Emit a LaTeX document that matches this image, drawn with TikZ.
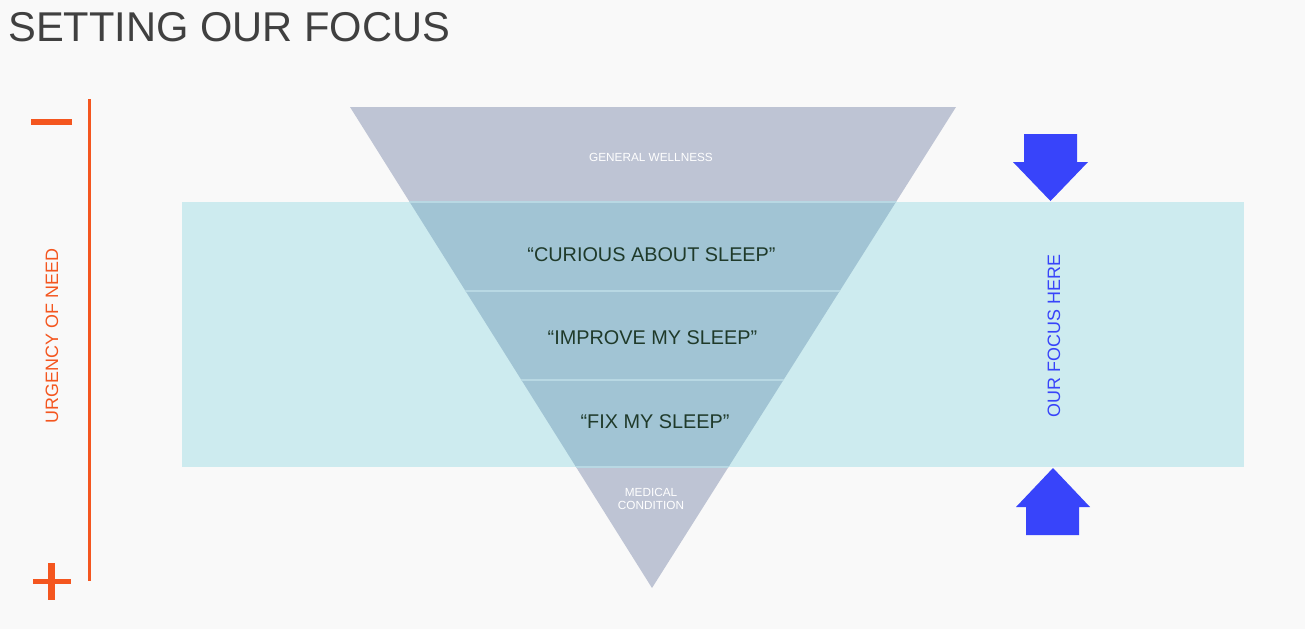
\documentclass[tikz,border=0pt]{standalone}
\usepackage{fontspec}
\setmainfont{Liberation Sans}
\usepackage{xcolor}
\usetikzlibrary{positioning}
\definecolor{pagebg}{HTML}{F9F9F9}
\definecolor{titlegray}{HTML}{404040}
\definecolor{funnel}{HTML}{BEC4D4}
\definecolor{band}{HTML}{CDEBEF}
\definecolor{overlap}{HTML}{A1C4D4}
\definecolor{divider}{HTML}{B8D8E3}
\definecolor{quotetext}{HTML}{1F3A2A}
\definecolor{urgency}{HTML}{F4561F}
\definecolor{focusblue}{HTML}{3844FA}
\newcommand{\fsz}[2]{\fontsize{#1}{#2}\selectfont}

\begin{document}
\begin{tikzpicture}[x=0.02cm, y=-0.02cm,
    stage/.style={inner sep=0pt, text=quotetext, font=\fsz{11.3pt}{13pt}},
    small/.style={inner sep=0pt, text=white, font=\fsz{6.7pt}{7.4pt}, align=center},
    side/.style={inner sep=0pt, rotate=90, font=\fsz{10.2pt}{12pt}}]
    % Page and margins
    \fill[pagebg] (0,0) rectangle (1305,629);
    \useasboundingbox (0,0) rectangle (1305,629);

    % Title
    \node[inner sep=0pt, anchor=base west, text=titlegray, font=\fsz{23.7pt}{28pt}] (title) at (8,41) {SETTING OUR FOCUS};

    % Funnel and focus band
    \fill[funnel] (350,107) -- (956,107) -- (652,588) -- cycle;
    \fill[band] (182,202) rectangle (1244,467);
    \begin{scope}
        \clip (350,107) -- (956,107) -- (652,588) -- cycle;
        \fill[overlap] (182,202) rectangle (1244,467);
        \foreach \y in {202, 291, 380, 467} {
            \draw[divider, line width=0.9pt] (300,\y) -- (1000,\y);
        }
    \end{scope}

    % Funnel labels
    \node[small] (wellness) at (651,157.5) {GENERAL WELLNESS};
    \node[stage] (curious) at (651.5,254.5) {“CURIOUS ABOUT SLEEP”};
    \node[stage] (improve) at (652.5,338) {“IMPROVE MY SLEEP”};
    \node[stage] (fix) at (655,422) {“FIX MY SLEEP”};
    \node[small] (medical) at (651,499) {MEDICAL\\CONDITION};

    % Urgency scale
    \draw[urgency, line width=1.4pt] (89.5,99) -- (89.5,581);
    \draw[urgency, line width=2.9pt] (31,122) -- (72,122);
    \draw[urgency, line width=3.2pt] (33,581.5) -- (71,581.5);
    \draw[urgency, line width=3.6pt] (51.5,563) -- (51.5,600);
    \node[side, text=urgency] (urgencylabel) at (52,336) {URGENCY OF NEED};

    % Focus arrows
    \fill[focusblue] (1024,134) -- (1077,134) -- (1077,162) -- (1088,162)
        -- (1050.5,201) -- (1013,162) -- (1024,162) -- cycle;
    \fill[focusblue] (1026,535) -- (1079,535) -- (1079,507) -- (1090,507)
        -- (1053,468) -- (1016,507) -- (1026,507) -- cycle;
    \node[side, text=focusblue] (focus) at (1054,336) {OUR FOCUS HERE};
\end{tikzpicture}
\end{document}
